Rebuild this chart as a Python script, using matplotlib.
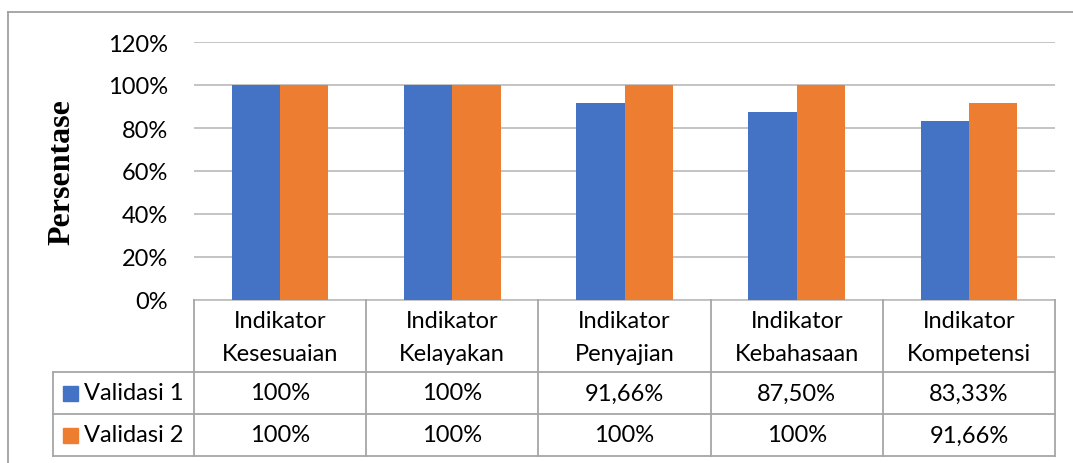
import matplotlib
matplotlib.use("Agg")
import matplotlib.pyplot as plt
from matplotlib.lines import Line2D
from matplotlib.patches import Rectangle

categories = ["Indikator\nKesesuaian", "Indikator\nKelayakan", "Indikator\nPenyajian",
              "Indikator\nKebahasaan", "Indikator\nKompetensi"]
series_names = ["Validasi 1", "Validasi 2"]
validasi1 = [100, 100, 91.66, 87.50, 83.33]
validasi2 = [100, 100, 100, 100, 91.66]
table_v1 = ["100%", "100%", "91,66%", "87,50%", "83,33%"]
table_v2 = ["100%", "100%", "100%", "100%", "91,66%"]
yticks = [0, 20, 40, 60, 80, 100, 120]
ytick_labels = ["0%", "20%", "40%", "60%", "80%", "100%", "120%"]

colors = ["#4472C4", "#ED7D31"]
FONT = "Lato"
W, H = 1073, 464

fig = plt.figure(figsize=(W / 100, H / 100), dpi=100)

def fx(x):
    return x / W

def fy(y):
    return 1 - y / H

L, R, T, B = 194, 1055, 43, 301
ax = fig.add_axes([fx(L), fy(B), fx(R) - fx(L), fy(T) - fy(B)])
n = len(categories)
xs = list(range(n))
bw = 0.28
ax.bar([x - bw / 2 for x in xs], validasi1, width=bw, color=colors[0], zorder=3)
ax.bar([x + bw / 2 for x in xs], validasi2, width=bw, color=colors[1], zorder=3)
ax.set_xlim(-0.5, n - 0.5)
ax.set_ylim(0, 120)
ax.set_yticks(yticks)
ax.set_yticklabels(ytick_labels, fontsize=17, family=FONT)
ax.tick_params(axis="y", length=0, pad=18.5)
ax.set_xticks([])
ax.yaxis.grid(True, color="#BFBFBF", linewidth=1.3, zorder=0)
for s in ["top", "right", "left"]:
    ax.spines[s].set_visible(False)
ax.spines["bottom"].set_color("#BFBFBF")
ax.spines["bottom"].set_linewidth(1.3)

ov = fig.add_axes([0, 0, 1, 1], zorder=5)
ov.set_xlim(0, W)
ov.set_ylim(H, 0)
ov.axis("off")
ov.patch.set_alpha(0)

lc = "#A6A6A6"
lw = 1.3
ov.add_line(Line2D([8, 8], [13, H], color="#A0A0A0", lw=1.3))
ov.add_line(Line2D([8, W], [13, 13], color="#A0A0A0", lw=1.3))

colw = (R - L) / n
bounds = [L + i * colw for i in range(n + 1)]
r0, r1, r2, r3 = 301, 373, 415, 457
leg_left = 53
for b in bounds:
    ov.add_line(Line2D([b, b], [r0, r3], color=lc, lw=lw))
ov.add_line(Line2D([leg_left, leg_left], [r1, r3], color=lc, lw=lw))
for yy in [r1, r2, r3]:
    ov.add_line(Line2D([leg_left, R], [yy, yy], color=lc, lw=lw))

tfs = 17
for i, cat in enumerate(categories):
    cx = (bounds[i] + bounds[i + 1]) / 2
    ov.text(cx, (r0 + r1) / 2 + 1, cat, ha="center", va="center", fontsize=tfs,
            family=FONT, linespacing=1.65, color="#000000")
    ov.text(cx, (r1 + r2) / 2, table_v1[i], ha="center", va="center", fontsize=tfs,
            family=FONT)
    ov.text(cx, (r2 + r3) / 2, table_v2[i], ha="center", va="center", fontsize=tfs,
            family=FONT)

for j, (name, yr) in enumerate(zip(series_names, [(r1, r2), (r2, r3)])):
    cy = (yr[0] + yr[1]) / 2
    ov.add_patch(Rectangle((63, cy - 7.5), 15, 15, color=colors[j]))
    ov.text(84, cy, name, ha="left", va="center", fontsize=tfs, family=FONT)

ov.text(62, 172, "Persentase", rotation=90, ha="center", va="center",
        fontsize=23, fontweight="bold", family="Liberation Serif")

fig.savefig("out.png", dpi=100)
